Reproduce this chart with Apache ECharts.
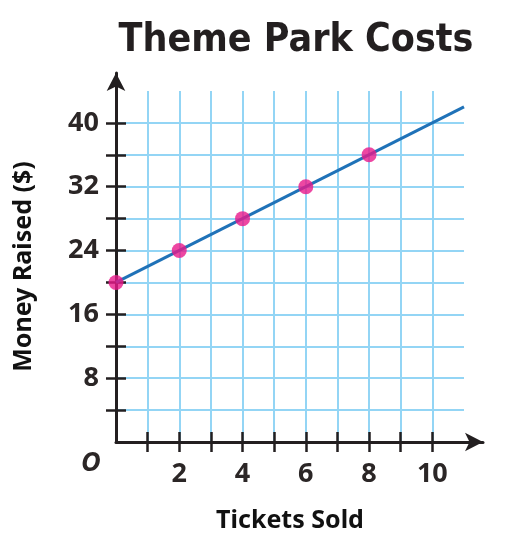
<!DOCTYPE html>
<html>
<head>
<meta charset="utf-8">
<script src="https://cdn.jsdelivr.net/npm/echarts@6/dist/echarts.min.js"></script>
<style>
  html, body { margin: 0; padding: 0; background: #fff; }
  #chart { width: 512px; height: 549px; }
</style>
</head>
<body>
<div id="chart"></div>
<script>
// data
const pointsX = [0, 2, 4, 6, 8];
const pointsY = [20, 24, 28, 32, 36];
const lineX = [0, 11];
const lineY = [20, 42];
const xTicks = [1, 2, 3, 4, 5, 6, 7, 8, 9, 10];
const xLabels = [2, 4, 6, 8, 10];
const yTicks = [4, 8, 12, 16, 20, 24, 28, 32, 36, 40];
const yLabels = [8, 16, 24, 32, 40];

const ink = '#231f20';
const gridBlue = '#93d5f5';
const numFont = { fontFamily: 'Noto Sans', fontWeight: 'bold', fontSize: 27, color: '#2b2626' };

const chart = echarts.init(document.getElementById('chart'));

const option = {
    animation: false,
    title: {
        text: 'Theme Park Costs',
        left: 291,
        textAlign: 'center',
        top: 16,
        textStyle: { fontFamily: 'DejaVu Sans Condensed, sans-serif', fontWeight: 'bold', fontSize: 39, color: ink }
    },
    grid: [
        { left: 116, right: 48, top: 91, bottom: 107 },   // squared paper
        { left: 116, right: 29, top: 73, bottom: 107 }    // black axes with arrows
    ],
    xAxis: [
        {
            gridIndex: 0, type: 'value', min: 0, max: 11, interval: 1,
            name: 'Tickets Sold', nameLocation: 'middle', nameGap: 66,
            nameTextStyle: { fontFamily: 'Noto Sans', fontWeight: 'bold', fontSize: 25, color: '#111' },
            axisLine: { show: false },
            axisTick: { show: true, customValues: xTicks, length: 10, lineStyle: { color: ink, width: 2.5 } },
            axisLabel: { customValues: xLabels, margin: 19, ...numFont },
            splitLine: { show: true, lineStyle: { color: gridBlue, width: 2 } }
        },
        {
            gridIndex: 0, type: 'value', min: 0, max: 11, position: 'bottom',
            axisLine: { show: false },
            axisTick: { show: true, inside: true, customValues: xTicks, length: 10, lineStyle: { color: ink, width: 2.5 } },
            axisLabel: { show: false },
            splitLine: { show: false }
        },
        {
            gridIndex: 1, type: 'value', min: 0, max: 1, z: 3,
            axisLine: { show: true, symbol: ['none', 'arrow'], symbolSize: [14, 18], lineStyle: { color: ink, width: 3 } },
            axisTick: { show: false }, axisLabel: { show: false }, splitLine: { show: false }
        }
    ],
    yAxis: [
        {
            gridIndex: 0, type: 'value', min: 0, max: 44, interval: 4,
            name: 'Money Raised ($)', nameLocation: 'middle', nameGap: 80,
            nameTextStyle: { fontFamily: 'Noto Sans', fontWeight: 'bold', fontSize: 25, color: '#111' },
            axisLine: { show: false },
            axisTick: { show: true, customValues: yTicks, length: 10, lineStyle: { color: ink, width: 2.5 } },
            axisLabel: { customValues: yLabels, margin: 17, ...numFont },
            splitLine: { show: true, lineStyle: { color: gridBlue, width: 2 } }
        },
        {
            gridIndex: 0, type: 'value', min: 0, max: 44, position: 'left',
            axisLine: { show: false },
            axisTick: { show: true, inside: true, customValues: yTicks, length: 10, lineStyle: { color: ink, width: 2.5 } },
            axisLabel: { show: false },
            splitLine: { show: false }
        },
        {
            gridIndex: 1, type: 'value', min: 0, max: 1, z: 3,
            axisLine: { show: true, symbol: ['none', 'arrow'], symbolSize: [14, 18], lineStyle: { color: ink, width: 3 } },
            axisTick: { show: false }, axisLabel: { show: false }, splitLine: { show: false }
        }
    ],
    graphic: [
        {
            type: 'text', left: 81, top: 450,
            style: { text: 'O', font: 'italic bold 27px "Noto Sans"', fill: '#2b2626' }
        }
    ],
    series: [
        {
            type: 'line', xAxisIndex: 0, yAxisIndex: 0, z: 5,
            data: lineX.map((x, i) => [x, lineY[i]]),
            showSymbol: false,
            lineStyle: { color: '#1f72b8', width: 3 }
        },
        {
            type: 'scatter', xAxisIndex: 0, yAxisIndex: 0, z: 6,
            data: pointsX.map((x, i) => [x, pointsY[i]]),
            symbolSize: 15,
            itemStyle: { color: '#e8198b' }
        }
    ]
};

chart.setOption(option);
</script>
</body>
</html>
